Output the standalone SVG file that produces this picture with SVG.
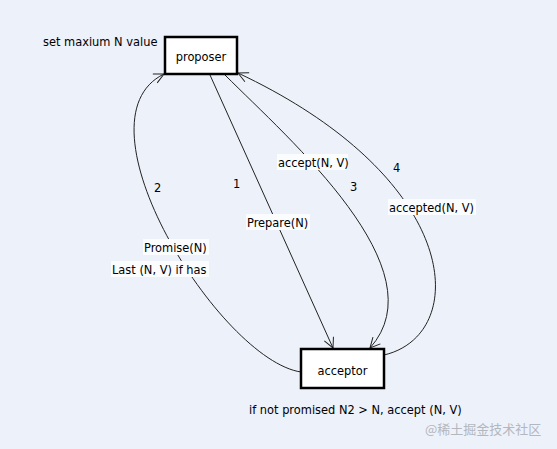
<svg xmlns="http://www.w3.org/2000/svg" width="557" height="449" viewBox="0 0 557 449">
<style>
text{font-family:"DejaVu Sans Condensed","DejaVu Sans",sans-serif;font-size:12.7px;fill:#000}
.box{fill:#fff;stroke:#000;stroke-width:2.5}
.lbg{fill:#fbfcfe}
.edge{fill:none;stroke:#222;stroke-width:1}
.wm{font-family:"Noto Sans CJK SC",sans-serif;font-size:13px;fill:#b3b7be}
</style>
<defs>
<marker id="arr" markerUnits="userSpaceOnUse" markerWidth="14" markerHeight="14" refX="11" refY="6" orient="auto">
<path d="M1,1 L11,6 L1,11" fill="none" stroke="#222" stroke-width="1"/>
</marker>
</defs>
<rect width="557" height="449" fill="#edf1f9"/>
<g id="connectors">
<path id="e1" class="edge" d="M210,75 L333,348" marker-end="url(#arr)"/>
<path id="e2" class="edge" d="M301,372 C220,360 70,120 164,74" marker-end="url(#arr)"/>
<path id="e3" class="edge" d="M225,75 C290,140 440,270 370,348" marker-end="url(#arr)"/>
<path id="e4" class="edge" d="M384,355 C470,335 465,180 238,73" marker-end="url(#arr)"/>
</g>
<g id="labels">
<rect class="lbg" x="277" y="154" width="71" height="16"/>
<text x="278" y="166.5">accept(N, V)</text>
<rect class="lbg" x="246" y="214" width="64" height="16"/>
<text x="247" y="226.5">Prepare(N)</text>
<rect class="lbg" x="388" y="199" width="88" height="16"/>
<text x="389" y="211.5">accepted(N, V)</text>
<rect class="lbg" x="143" y="239" width="66" height="16"/>
<text x="144" y="251.5">Promise(N)</text>
<rect class="lbg" x="111" y="261" width="98" height="16"/>
<text x="112" y="273.5">Last (N, V) if has</text>
<text x="233" y="187.5">1</text>
<text x="154" y="191.5">2</text>
<text x="350" y="190.5">3</text>
<text x="393" y="171.5">4</text>
</g>
<g id="proposer">
<rect class="box" x="165" y="37" width="72" height="37"/>
<text x="201" y="61" text-anchor="middle">proposer</text>
</g>
<text x="43" y="45.5">set maxium N value</text>
<g id="acceptor">
<rect class="box" x="301" y="349" width="83" height="39"/>
<text x="342.5" y="374.5" text-anchor="middle">acceptor</text>
</g>
<text x="249" y="413.5">if not promised N2 &gt; N, accept (N, V)</text>
<text class="wm" x="425" y="434">@稀土掘金技术社区</text>
</svg>
